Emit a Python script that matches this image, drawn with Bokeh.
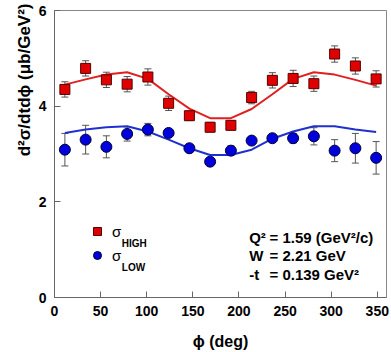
from bokeh.plotting import figure
from bokeh.models import (ColumnDataSource, Whisker, TeeHead, Label, Legend,
                          LegendItem, FixedTicker, Range1d, Title)
from bokeh.embed import file_html
from bokeh.resources import INLINE

# ---------------- data ----------------
phi_deg = [11.25, 33.75, 56.25, 78.75, 101.25, 123.75, 146.25, 168.75,
           191.25, 213.75, 236.25, 258.75, 281.25, 303.75, 326.25, 348.75]

sigma_high = [4.35, 4.79, 4.55, 4.46, 4.61, 4.06, 3.80, 3.56,
              3.60, 4.18, 4.54, 4.58, 4.47, 5.09, 4.84, 4.57]
err_high = [0.16, 0.16, 0.16, 0.16, 0.17, 0.15, 0.10, 0.10,
            0.10, 0.13, 0.16, 0.17, 0.16, 0.17, 0.17, 0.17]

sigma_low = [3.09, 3.30, 3.15, 3.42, 3.51, 3.44, 3.12, 2.84,
             3.07, 3.28, 3.33, 3.33, 3.37, 3.07, 3.12, 2.92]
err_low = [0.34, 0.30, 0.23, 0.15, 0.13, 0.07, 0.06, 0.06,
           0.10, 0.07, 0.07, 0.10, 0.18, 0.23, 0.31, 0.34]

fit_high = [4.45, 4.56, 4.66, 4.71, 4.57, 4.25, 3.95, 3.75,
            3.75, 3.94, 4.25, 4.57, 4.71, 4.66, 4.55, 4.43]
fit_low = [3.44, 3.51, 3.56, 3.58, 3.47, 3.30, 3.12, 2.98,
           2.98, 3.09, 3.32, 3.47, 3.58, 3.58, 3.51, 3.46]

x_ticks = [0, 50, 100, 150, 200, 250, 300, 350]
y_ticks = [0, 2, 4, 6]

FONT = "Liberation Sans"

# ---------------- figure ----------------
p = figure(width=391, height=352, output_backend="svg", toolbar_location=None,
           x_range=Range1d(0, 360), y_range=Range1d(0, 6),
           min_border_left=54, min_border_right=5, min_border_top=10,
           min_border_bottom=55)
p.grid.visible = False
p.outline_line_color = "#888888"
p.outline_line_width = 1
p.background_fill_color = "white"
p.border_fill_color = "white"

for ax in (p.xaxis, p.yaxis):
    ax.axis_line_color = "#666666"
    ax.major_tick_line_color = "#666666"
    ax.major_tick_in = 6
    ax.major_tick_out = 0
    ax.minor_tick_line_color = None
    ax.major_label_text_font = FONT
    ax.major_label_text_font_style = "bold"
    ax.major_label_text_font_size = "14px"
    ax.major_label_text_color = "black"
    ax.major_label_standoff = 8

p.xaxis.ticker = FixedTicker(ticks=x_ticks)
p.yaxis.ticker = FixedTicker(ticks=y_ticks)

p.xaxis.axis_label = "\u03d5 (deg)"
p.xaxis.axis_label_text_font = FONT
p.xaxis.axis_label_text_font_style = "bold"
p.xaxis.axis_label_text_font_size = "16px"
p.xaxis.axis_label_text_color = "black"
p.xaxis.axis_label_standoff = 14

# y-axis title, pushed toward the top like the reference
ytitle = Title(text="d\u00b2\u03c3/dtd\u03d5 (\u03bcb/GeV\u00b2)", align="right",
               text_font=FONT, text_font_style="bold", text_font_size="17px",
               text_color="black", standoff=4, offset=-7)
p.add_layout(ytitle, "left")

# ---------------- data sources ----------------
src_h = ColumnDataSource(dict(
    x=phi_deg, y=sigma_high,
    lo=[v - e for v, e in zip(sigma_high, err_high)],
    hi=[v + e for v, e in zip(sigma_high, err_high)]))
src_l = ColumnDataSource(dict(
    x=phi_deg, y=sigma_low,
    lo=[v - e for v, e in zip(sigma_low, err_low)],
    hi=[v + e for v, e in zip(sigma_low, err_low)]))

# fit curves
p.line(phi_deg, fit_high, line_color="#e02020", line_width=2)
p.line(phi_deg, fit_low, line_color="#2030d0", line_width=2)

# error bars
for src in (src_h, src_l):
    w = Whisker(source=src, base="x", lower="lo", upper="hi",
                line_color="#555555", line_width=1,
                upper_head=TeeHead(size=7, line_color="#555555", line_width=1),
                lower_head=TeeHead(size=7, line_color="#555555", line_width=1))
    p.add_layout(w)

r_h = p.scatter("x", "y", source=src_h, marker="square", size=10,
                fill_color="#e00000", line_color="#550000", line_width=1)
r_l = p.scatter("x", "y", source=src_l, marker="circle", size=11,
                fill_color="#0000dd", line_color="#000033", line_width=1)

# ---------------- legend ----------------
legend = Legend(items=[LegendItem(label="\u03c3", renderers=[r_h]),
                       LegendItem(label="\u03c3", renderers=[r_l])],
                location=(33, 32), padding=0, margin=0, spacing=4,
                glyph_width=20, glyph_height=20, label_height=20,
                label_standoff=5, border_line_color=None,
                background_fill_alpha=0,
                label_text_font=FONT, label_text_font_size="15px",
                label_text_color="black")
p.add_layout(legend)

for txt, yy in (("HIGH", 1.135), ("LOW", 0.633)):
    p.add_layout(Label(x=73.0, y=yy, text=txt, text_font=FONT,
                       text_font_style="bold", text_font_size="10px",
                       text_baseline="alphabetic", text_align="left",
                       text_color="black"))

# ---------------- kinematics annotation ----------------
ann_left = ["Q\u00b2", "W", "-t"]
ann_right = ["= 1.59 (GeV\u00b2/c)", "= 2.21 GeV", "= 0.139 GeV\u00b2"]
ann_y = [1.254, 0.872, 0.487]
for lt, rt, yy in zip(ann_left, ann_right, ann_y):
    p.add_layout(Label(x=211.1, y=yy, text=lt, text_font=FONT,
                       text_font_style="bold", text_font_size="15px",
                       text_baseline="alphabetic", text_color="black"))
    p.add_layout(Label(x=233.1, y=yy, text=rt, text_font=FONT,
                       text_font_style="bold", text_font_size="15px",
                       text_baseline="alphabetic", text_color="black"))

open("out.html", "w").write(file_html(p, INLINE))
